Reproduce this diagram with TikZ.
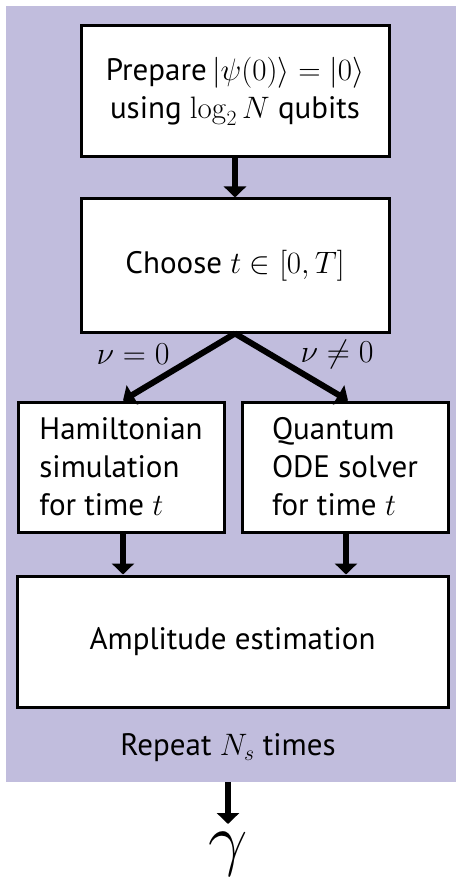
\RequirePackage{fix-cm}
\documentclass[tikz,border=0pt]{standalone}
\usepackage[no-math]{fontspec}
\setmainfont{PT Sans}
\usetikzlibrary{arrows.meta}
\definecolor{lav}{RGB}{193,189,221}
\begin{document}
\begin{tikzpicture}[x=1pt,y=-1pt,
  box/.style={draw=black,line width=3pt,fill=white,inner sep=0pt,font=\fontsize{31}{38}\selectfont},
  arr/.style={line width=6pt,-{Triangle[width=22pt,length=11pt]}},
  lbl/.style={font=\fontsize{32}{38}\selectfont,inner sep=0pt}]
\useasboundingbox (0,0) rectangle (456,882);
\fill[lav] (6,6) rectangle (456,782);
\node[box,minimum width=308pt,minimum height=131pt,align=center] (prep) at (235,91.5) {Prepare\,$|\psi(0)\rangle=|0\rangle$\\using $\log_2 N$ qubits};
\node[box,minimum width=308pt,minimum height=133pt] (choose) at (235,265.5) {Choose $t\in[0,T]$};
\node[box,minimum width=206pt,minimum height=130pt,align=left] (ham) at (121,467) {Hamiltonian\\simulation\\for time $t$};
\node[box,minimum width=206pt,minimum height=130pt,align=left] (ode) at (345,467) {Quantum\\ODE solver\\for time $t$};
\node[box,minimum width=431pt,minimum height=131pt] (amp) at (232.5,641.5) {Amplitude estimation};
\node[lbl,font=\fontsize{31}{38}\selectfont] (rep) at (228,748) {Repeat $N_s$ times};
\node[lbl] (nu0) at (133,354) {$\nu=0$};
\node[lbl] (nu1) at (337,354) {$\nu\neq0$};
\coordinate (bgb) at (228,782);
\node[inner sep=0pt,anchor=north,font=\fontsize{70}{70}\selectfont] (gam) at (228,832) {$\gamma$};
\draw[arr] (prep.south) -- (choose.north);
\draw[arr] (choose.south) -- ([xshift=2pt]ham.north);
\draw[arr] (choose.south) -- ([xshift=3pt]ode.north);
\draw[arr] ([xshift=2pt]ham.south) -- ([xshift=2pt]ham.south |- amp.north);
\draw[arr] ([xshift=1pt]ode.south) -- ([xshift=1pt]ode.south |- amp.north);
\draw[arr] (bgb) -- ([yshift=8pt]gam.north);
\end{tikzpicture}
\end{document}
